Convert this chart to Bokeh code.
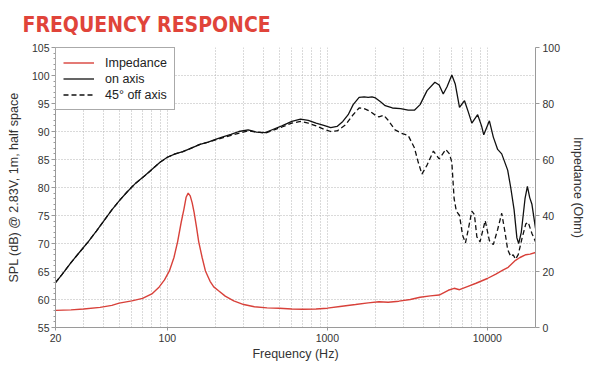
from bokeh.plotting import figure
from bokeh.models import (Range1d, LinearAxis, SingleIntervalTicker, FixedTicker,
                          NumeralTickFormatter, Legend, LegendItem)
from bokeh.embed import file_html
from bokeh.resources import INLINE

# ---- data ----
on_freq = [20, 22, 25, 28, 32, 36, 40, 45, 50, 56, 63, 71, 80, 90, 100, 112, 125, 140, 160, 180,
           200, 225, 250, 280, 320, 360, 410, 460, 520, 600, 680, 760, 850, 950, 1050, 1150, 1250,
           1350, 1450, 1580, 1700, 1800, 1900, 2000, 2150, 2300, 2550, 2870, 3200, 3500, 3800, 4200,
           4700, 5000, 5300, 5600, 6000, 6300, 6700, 7200, 7600, 8000, 8700, 9200, 9500, 10300,
           10900, 11600, 12300, 13400, 14000, 14700, 15300, 15700, 16300, 17200, 17800, 18400,
           19000, 20000]
on_spl = [63.0, 64.5, 66.6, 68.3, 70.3, 72.2, 74.0, 76.0, 77.6, 79.2, 80.7, 81.9, 83.2, 84.5, 85.4,
          86.0, 86.4, 87.0, 87.7, 88.1, 88.6, 89.1, 89.5, 90.0, 90.3, 89.9, 89.8, 90.4, 91.0, 91.8,
          92.2, 92.0, 91.5, 91.1, 90.7, 90.9, 91.8, 93.0, 94.8, 96.1, 96.2, 96.1, 96.2, 96.0, 95.3,
          94.6, 94.2, 94.1, 93.8, 93.8, 94.8, 97.3, 98.8, 98.3, 96.7, 98.0, 100.1, 98.5, 94.3, 95.5,
          93.5, 91.5, 93.0, 91.0, 89.4, 91.9, 89.0, 86.8, 86.0, 83.1, 80.0, 76.0, 71.0, 70.0, 72.0,
          78.0, 80.2, 78.2, 77.0, 72.7]

off_freq = [20, 22, 25, 28, 32, 36, 40, 45, 50, 56, 63, 71, 80, 90, 100, 112, 125, 140, 160, 180,
            200, 250, 320, 410, 520, 600, 680, 760, 850, 950, 1050, 1150, 1300, 1450, 1580, 1700,
            1850, 2000, 2100, 2250, 2400, 2650, 2900, 3200, 3500, 3700, 3900, 4200, 4600, 5000,
            5500, 5800, 6000, 6200, 6400, 6700, 7000, 7300, 7600, 8000, 8300, 8600, 9000, 9700,
            10300, 10900, 11600, 12300, 12900, 13400, 14000, 14500, 15000, 15600, 16500, 17400,
            18000, 19000, 20000]
off_spl = [63.0, 64.5, 66.6, 68.3, 70.3, 72.2, 74.0, 76.0, 77.6, 79.2, 80.7, 81.9, 83.2, 84.5, 85.4,
           86.0, 86.4, 87.0, 87.7, 88.1, 88.5, 89.3, 90.1, 89.7, 90.8, 91.5, 91.8, 91.5, 91.0, 90.4,
           90.0, 90.1, 91.2, 93.0, 94.2, 94.1, 93.6, 92.9, 92.6, 92.9, 92.0, 90.3, 89.7, 89.3, 87.1,
           84.5, 82.4, 84.0, 86.5, 85.1, 86.8, 86.0, 84.5, 78.0, 75.8, 75.0, 71.5, 70.1, 72.5, 75.8,
           75.2, 71.2, 70.3, 74.1, 70.5, 69.8, 72.5, 75.4, 72.0, 68.9, 67.7, 68.0, 67.2, 68.0, 71.0,
           73.5, 73.8, 71.8, 70.3]

imp_freq = [20, 25, 30, 38, 45, 50, 60, 70, 80, 89, 96, 103, 110, 116, 122, 127, 131, 135, 139, 143,
            147, 152, 157, 165, 173, 185, 195, 209, 230, 260, 300, 350, 420, 500, 600, 700, 850,
            1000, 1200, 1500, 1800, 2100, 2400, 2800, 3300, 3800, 4400, 5000, 5700, 6200, 6700,
            7500, 8500, 10000, 11300, 12500, 13500, 15000, 16000, 17400, 18500, 20000]
imp_ohm = [6.1, 6.3, 6.6, 7.2, 7.9, 8.7, 9.5, 10.4, 12.0, 14.5, 17.0, 20.2, 25.0, 30.7, 37.5, 42.3,
           46.5, 48.0, 47.0, 44.5, 41.1, 36.0, 30.7, 25.0, 20.2, 16.5, 14.5, 13.1, 11.2, 9.5, 8.2,
           7.4, 7.0, 6.9, 6.6, 6.5, 6.6, 6.9, 7.5, 8.2, 8.8, 9.2, 9.0, 9.4, 10.0, 10.8, 11.3, 11.6,
           13.3, 14.0, 13.5, 14.6, 15.8, 17.5, 19.1, 20.5, 21.5, 24.0, 25.0, 26.0, 26.2, 26.8]

x_major = [20, 100, 1000, 10000]
x_minor = [30, 40, 50, 60, 70, 80, 90, 200, 300, 400, 500, 600, 700, 800, 900,
           2000, 3000, 4000, 5000, 6000, 7000, 8000, 9000]

FONT = "Liberation Sans"
GRID = "#b4b4b4"
AXIS = "#9a9a9a"
TXT = "#333333"

p = figure(width=588, height=363, x_axis_type="log", output_backend="svg",
           toolbar_location=None, x_range=Range1d(20, 20000), y_range=Range1d(55, 105),
           min_border_left=55, min_border_right=48, min_border_top=47, min_border_bottom=30)
p.outline_line_color = None
p.background_fill_color = "white"
p.border_fill_color = "white"

p.extra_y_ranges = {"imp": Range1d(0, 100)}

# title
p.title.text = "FREQUENCY RESPONCE"
p.title.text_font = "DejaVu Sans Condensed"
p.title.text_font_size = "21px"
p.title.text_font_style = "bold"
p.title.text_color = "#e0443a"
p.title.align = "left"
p.title.offset = -33
p.title.standoff = 21

# x axis
xt = FixedTicker(ticks=x_major, minor_ticks=x_minor)
xa = p.xaxis[0]
xa.ticker = xt
xa.formatter = NumeralTickFormatter(format="0")
xa.axis_line_color = AXIS
xa.major_tick_line_color = AXIS
xa.major_tick_out = 3
xa.major_tick_in = 0
xa.minor_tick_line_color = None
xa.major_label_text_font = FONT
xa.major_label_text_font_size = "10.5px"
xa.major_label_text_color = TXT
xa.major_label_standoff = 2
xa.axis_label = "Frequency (Hz)"
xa.axis_label_text_font = FONT
xa.axis_label_text_font_size = "12.5px"
xa.axis_label_text_font_style = "normal"
xa.axis_label_text_color = TXT
xa.axis_label_standoff = 2

# left axis
ya = p.yaxis[0]
ya.ticker = SingleIntervalTicker(interval=5, num_minor_ticks=5)
ya.axis_line_color = AXIS
ya.major_tick_line_color = AXIS
ya.minor_tick_line_color = AXIS
ya.major_tick_out = 4
ya.major_tick_in = 0
ya.minor_tick_out = 2
ya.minor_tick_in = 0
ya.major_label_text_font = FONT
ya.major_label_text_font_size = "10.5px"
ya.major_label_text_color = TXT
ya.major_label_standoff = 2
ya.axis_label = "SPL (dB) @ 2.83V, 1m, half space"
ya.axis_label_text_font = FONT
ya.axis_label_text_font_size = "12.5px"
ya.axis_label_text_font_style = "normal"
ya.axis_label_text_color = TXT
ya.axis_label_standoff = 8

# right axis
ra = LinearAxis(y_range_name="imp", ticker=SingleIntervalTicker(interval=20))
ra.axis_line_color = AXIS
ra.major_tick_line_color = AXIS
ra.minor_tick_line_color = None
ra.major_tick_out = 4
ra.major_tick_in = 0
ra.major_label_text_font = FONT
ra.major_label_text_font_size = "10.5px"
ra.major_label_text_color = TXT
ra.major_label_standoff = 3
ra.axis_label = "Impedance (Ohm)"
ra.axis_label_text_font = FONT
ra.axis_label_text_font_size = "12.5px"
ra.axis_label_text_font_style = "normal"
ra.axis_label_text_color = TXT
ra.axis_label_standoff = 8
p.add_layout(ra, "right")

# grids
p.xgrid.ticker = xt
p.xgrid.grid_line_color = GRID
p.xgrid.grid_line_dash = "1 2"
p.xgrid.minor_grid_line_color = GRID
p.xgrid.minor_grid_line_dash = "1 2"
p.ygrid.grid_line_color = GRID
p.ygrid.grid_line_dash = "1 2"

# curves
r_imp = p.line(imp_freq, imp_ohm, y_range_name="imp", line_color="#d8413a", line_width=1.4)
r_on = p.line(on_freq, on_spl, line_color="#111111", line_width=1.3)
r_off = p.line(off_freq, off_spl, line_color="#111111", line_width=1.3, line_dash="5 3")

legend = Legend(items=[LegendItem(label="Impedance", renderers=[r_imp]),
                       LegendItem(label="on axis", renderers=[r_on]),
                       LegendItem(label="45\u00b0 off axis", renderers=[r_off])],
                location="top_left", margin=0, padding=7, spacing=1,
                glyph_width=31, glyph_height=15, label_height=15, label_standoff=11,
                label_text_font=FONT, label_text_font_size="12.5px", label_text_color="#222222",
                border_line_color="#555555", border_line_width=1,
                background_fill_color="white", background_fill_alpha=1)
p.add_layout(legend, "center")

open("out.html", "w").write(file_html(p, INLINE))
